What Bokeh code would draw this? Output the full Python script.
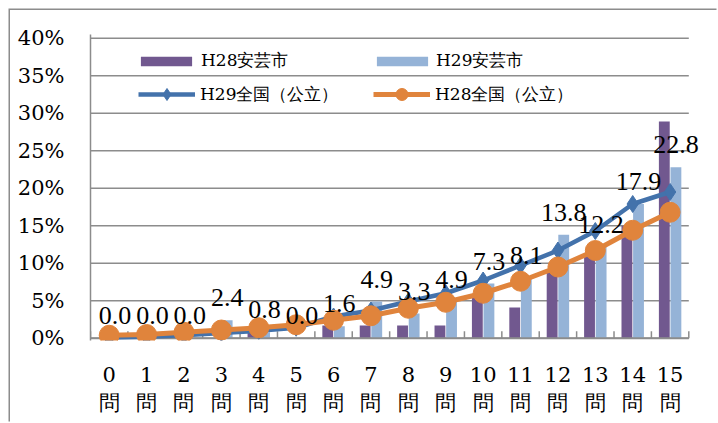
from bokeh.plotting import figure
from bokeh.models import (ColumnDataSource, Range1d, FixedTicker, LabelSet, Legend,
                          LegendItem)
from bokeh.embed import file_html
from bokeh.resources import INLINE

categories = [f"{i}\n問" for i in range(16)]
h28_aki = [0, 0, 0, 0, 0.9, 0, 1.7, 1.7, 1.7, 1.7, 5.7, 4.1, 8.9, 11.3, 15.0, 28.9]
h29_aki = [0.0, 0.0, 0.0, 2.4, 0.8, 0.0, 1.6, 4.9, 3.3, 4.9, 7.3, 8.1, 13.8, 12.2, 17.9, 22.8]
h29_zenkoku = [0.1, 0.2, 0.4, 0.7, 1.0, 1.4, 2.9, 3.7, 4.9, 6.0, 7.7, 9.7, 11.7, 14.3, 17.9, 19.5]
h28_zenkoku = [0.4, 0.5, 0.8, 1.1, 1.4, 1.8, 2.4, 3.0, 4.0, 4.8, 6.0, 7.6, 9.5, 11.7, 14.4, 16.8]
y_ticks = [0, 5, 10, 15, 20, 25, 30, 35, 40]

PURPLE = "#71588F"
LIGHT = "#95B3D7"
BLUE = "#4372AB"
ORANGE = "#E0843C"
GRID = "#8C8C8C"
SERIF = "DejaVu Serif"

xs = list(range(16))
n = len(xs)
src = ColumnDataSource(dict(
    x=xs,
    x28=[x - 0.155 for x in xs],
    x29=[x + 0.155 for x in xs],
    a28=h28_aki, a29=h29_aki, z29=h29_zenkoku, z28=h28_zenkoku,
    lab=[f"{v:.1f}" for v in h29_aki],
))

p = figure(width=708, height=413, output_backend="svg", toolbar_location=None,
           x_range=Range1d(-0.5, 16.0), y_range=Range1d(-0.3, 40.5),
           min_border_left=80, min_border_right=11, min_border_top=24, min_border_bottom=83)
p.outline_line_color = None
p.background_fill_color = "white"
p.border_fill_color = "white"
p.styles = {"margin-left": "10px", "margin-top": "10px",
            "box-shadow": "-1.5px -1.5px 0px 0px #8C8C8C"}

# gridlines and category axis drawn as segments so labels can overflow to the right
p.segment(x0=[-0.5] * len(y_ticks), x1=[n - 0.5] * len(y_ticks), y0=y_ticks, y1=y_ticks,
          line_color=GRID, line_width=1.5)
bounds = [x - 0.5 for x in range(n + 1)]
p.segment(x0=bounds, x1=bounds, y0=[0] * len(bounds), y1=[0.95] * len(bounds),
          line_color=GRID, line_width=1.5)

b28 = p.vbar(x="x28", top="a28", width=0.29, source=src, fill_color=PURPLE, line_color=None)
b29 = p.vbar(x="x29", top="a29", width=0.29, source=src, fill_color=LIGHT, line_color=None)
p.segment(x0=[-0.5], x1=[n - 0.5], y0=[0], y1=[0], line_color=GRID, line_width=2)
l29 = p.line(x="x", y="z29", source=src, line_color=BLUE, line_width=4.5)
s29 = p.scatter(x="x", y="z29", source=src, marker="diamond", size=17, fill_color=BLUE, line_color=BLUE)
l28 = p.line(x="x", y="z28", source=src, line_color=ORANGE, line_width=5)
s28 = p.scatter(x="x", y="z28", source=src, marker="circle", size=20, fill_color=ORANGE, line_color=ORANGE)

labels = LabelSet(x="x29", y="a29", text="lab", source=src, text_align="center",
                  text_baseline="alphabetic", y_offset=14, text_font=SERIF,
                  text_font_size="26px", text_color="black")
p.add_layout(labels)

# axes
p.xaxis.ticker = FixedTicker(ticks=xs)
p.xaxis.major_label_overrides = {i: categories[i] for i in xs}
p.xaxis.major_tick_in = 0
p.xaxis.major_tick_out = 0
p.xaxis.minor_tick_line_color = None
p.xaxis.axis_line_color = None
p.xaxis.major_label_text_font = SERIF
p.xaxis.major_label_text_font_size = "21px"
p.xaxis.major_label_text_color = "black"
p.xaxis.major_label_standoff = 22

p.yaxis.ticker = FixedTicker(ticks=y_ticks)
p.yaxis.major_label_overrides = {v: f"{v}%" for v in y_ticks}
p.yaxis.major_tick_in = 0
p.yaxis.major_tick_out = 0
p.yaxis.minor_tick_line_color = None
p.yaxis.axis_line_color = GRID
p.yaxis.axis_line_width = 1.5
p.yaxis.major_label_text_font = SERIF
p.yaxis.major_label_text_font_size = "21px"
p.yaxis.major_label_text_color = "black"
p.yaxis.major_label_standoff = 26

p.xgrid.grid_line_color = None
p.ygrid.grid_line_color = None


def make_legend(item, loc, gw, gh, standoff):
    lg = Legend(items=[item], location=loc, orientation="vertical",
                glyph_width=gw, glyph_height=gh, label_height=20,
                label_standoff=standoff, padding=0, margin=0, spacing=0,
                border_line_color=None, background_fill_alpha=0,
                label_text_font=SERIF, label_text_font_size="17px",
                label_text_color="black")
    p.add_layout(lg)


make_legend(LegendItem(label="H28安芸市", renderers=[b28]), (44, 268), 64, 12, 3)
make_legend(LegendItem(label="H29安芸市", renderers=[b29]), (280, 268), 64, 12, 2)
make_legend(LegendItem(label="H29全国（公立）", renderers=[l29, s29]), (48, 231), 57, 30, 5)
make_legend(LegendItem(label="H28全国（公立）", renderers=[l28, s28]), (283, 231), 57, 30, 5)

open("out.html", "w").write(file_html(p, INLINE))
